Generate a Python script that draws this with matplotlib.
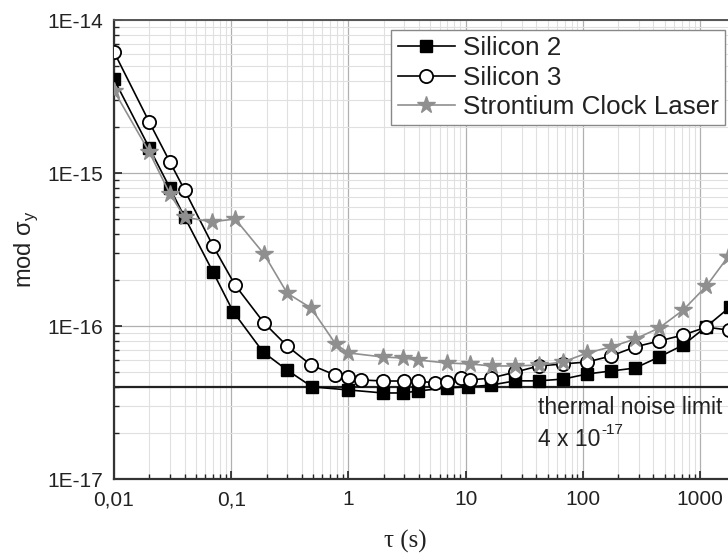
import matplotlib
matplotlib.use("Agg")
import matplotlib.pyplot as plt
from matplotlib.ticker import FixedLocator, FuncFormatter, LogLocator, NullFormatter

# ---- data ----
si2_tau = [0.01, 0.02, 0.03, 0.04, 0.07, 0.104, 0.187, 0.30, 0.49, 1.0, 1.97, 2.92, 3.93, 6.9,
           10.5, 16.5, 26.4, 42, 68, 109, 174, 279, 447, 716, 1130, 1800]
si2_val = [4.1e-15, 1.46e-15, 7.97e-16, 5.15e-16, 2.25e-16, 1.24e-16, 6.76e-17, 5.15e-17, 4.0e-17,
           3.82e-17, 3.65e-17, 3.65e-17, 3.76e-17, 3.94e-17, 4.0e-17, 4.11e-17, 4.38e-17, 4.38e-17,
           4.5e-17, 4.86e-17, 5.08e-17, 5.31e-17, 6.27e-17, 7.5e-17, 9.9e-17, 1.33e-16]

si3_tau = [0.01, 0.02, 0.03, 0.04, 0.07, 0.108, 0.19, 0.30, 0.48, 0.77, 1.0, 1.29, 1.97, 3.0, 3.93,
           5.5, 6.9, 9.1, 11, 16.5, 26.6, 42, 68, 109, 174, 279, 447, 716, 1130, 1750]
si3_val = [6.18e-15, 2.15e-15, 1.18e-15, 7.74e-16, 3.33e-16, 1.85e-16, 1.05e-16, 7.4e-17, 5.56e-17,
           4.78e-17, 4.64e-17, 4.44e-17, 4.37e-17, 4.37e-17, 4.37e-17, 4.24e-17, 4.3e-17, 4.57e-17,
           4.44e-17, 4.57e-17, 5.0e-17, 5.48e-17, 5.65e-17, 5.82e-17, 6.37e-17, 7.3e-17, 7.98e-17,
           8.73e-17, 9.84e-17, 9.4e-17]

sr_tau = [0.01, 0.02, 0.03, 0.04, 0.0686, 0.108, 0.19, 0.30, 0.48, 0.78, 1.0, 1.97, 2.9, 3.9, 6.9,
          10.8, 16.7, 26.6, 42, 68, 109, 174, 279, 447, 716, 1130, 1730]
sr_val = [3.45e-15, 1.37e-15, 7.3e-16, 5.15e-16, 4.79e-16, 5.01e-16, 2.96e-16, 1.64e-16, 1.31e-16,
          7.6e-17, 6.67e-17, 6.27e-17, 6.18e-17, 6.0e-17, 5.73e-17, 5.65e-17, 5.48e-17, 5.48e-17,
          5.56e-17, 5.82e-17, 6.67e-17, 7.3e-17, 8.22e-17, 9.7e-17, 1.27e-16, 1.82e-16, 2.83e-16]

thermal_limit = 4e-17
x_ticks = [0.01, 0.1, 1, 10, 100, 1000]
x_ticklabels = ["0,01", "0,1", "1", "10", "100", "1000"]
y_ticks = [1e-17, 1e-16, 1e-15, 1e-14]
y_ticklabels = ["1E-17", "1E-16", "1E-15", "1E-14"]
labels = ["Silicon 2", "Silicon 3", "Strontium Clock Laser"]

plt.rcParams['font.family'] = ['Liberation Sans', 'DejaVu Sans']

W, H = 728, 554
fig = plt.figure(figsize=(W / 100, H / 100), dpi=100)
left_px, right_px, top_px, bot_px = 114, 756, 20, 479
aw, ah = right_px - left_px, bot_px - top_px
ax = fig.add_axes([left_px / W, 1 - bot_px / H, aw / W, ah / H])
ax.set_xscale('log')
ax.set_yscale('log')
ax.set_xlim(0.01, 3000)
ax.set_ylim(1e-17, 1e-14)

ax.grid(True, which='major', color='#b0b0b0', lw=0.9)
ax.grid(True, which='minor', color='#e0e0e0', lw=0.8)
ax.set_axisbelow(True)

ax.axhline(thermal_limit, color='#222222', lw=1.6, zorder=2)

ax.plot(si2_tau, si2_val, '-', color='black', lw=1.2, marker='s', ms=8.5,
        mfc='black', mec='black', label=labels[0], zorder=3)
ax.plot(si3_tau, si3_val, '-', color='black', lw=1.2, marker='o', ms=9.5,
        mfc='white', mec='black', mew=1.3, label=labels[1], zorder=4)
ax.plot(sr_tau, sr_val, '-', color='#8f8f8f', lw=1.2, marker='*', ms=13,
        mfc='#8f8f8f', mec='#8f8f8f', label=labels[2], zorder=5)

ax.xaxis.set_major_locator(FixedLocator(x_ticks))
ax.xaxis.set_major_formatter(FuncFormatter(lambda v, p: x_ticklabels[x_ticks.index(v)] if v in x_ticks else ""))
ax.xaxis.set_minor_locator(LogLocator(base=10, subs=range(2, 10), numticks=20))
ax.xaxis.set_minor_formatter(NullFormatter())
ax.yaxis.set_major_locator(FixedLocator(y_ticks))
ax.yaxis.set_major_formatter(FuncFormatter(lambda v, p: y_ticklabels[y_ticks.index(v)] if v in y_ticks else ""))
ax.yaxis.set_minor_locator(LogLocator(base=10, subs=range(2, 10), numticks=20))
ax.yaxis.set_minor_formatter(NullFormatter())

ax.tick_params(which='both', direction='in', top=False, right=False, labelsize=15, colors='#222222')
ax.tick_params(which='major', length=6, width=1.2)
ax.tick_params(axis='x', which='major', pad=8)
ax.tick_params(axis='y', which='major', pad=8)
ax.tick_params(which='minor', length=3.5, width=1)
for s in ['left', 'bottom']:
    ax.spines[s].set_color('#333333')
    ax.spines[s].set_linewidth(1.6)
ax.spines['top'].set_color('#555555')
ax.spines['top'].set_linewidth(1.4)
ax.spines['right'].set_visible(False)

ax.set_ylabel("mod σ$_\\mathregular{y}$", fontsize=17, color='#222222')
ax.yaxis.set_label_coords(-(left_px - 40) / aw, 0.5)
ax.set_xlabel("τ (s)", fontsize=18, family=['Liberation Serif', 'DejaVu Serif'], color='#222222')
ax.xaxis.set_label_coords((405 - left_px) / aw, -(530 - bot_px) / ah)

fig.text(538 / W, 1 - 407 / H, "thermal noise limit", fontsize=16.5, va='center', ha='left', color='#222222')
t1 = fig.text(538 / W, 1 - 440 / H, "4 x 10", fontsize=16.5, va='center', ha='left', color='#222222')
renderer = fig.canvas.get_renderer()
bb = t1.get_window_extent(renderer)
fig.text(bb.x1 / W + 0.5 / W, 1 - 430 / H, "-17", fontsize=11, va='center', ha='left', color='#222222')

leg = ax.legend(loc='upper right', bbox_to_anchor=(725 / W, 1 - 30 / H), bbox_transform=fig.transFigure,
                fontsize=18.7, frameon=True, fancybox=False, edgecolor='#888888', framealpha=1,
                handlelength=2.2, handletextpad=0.3, labelspacing=0.2, borderpad=0.25, borderaxespad=0)
leg.get_frame().set_linewidth(1.0)
for t in leg.get_texts():
    t.set_color('#222222')

fig.savefig("out.png", dpi=100)
